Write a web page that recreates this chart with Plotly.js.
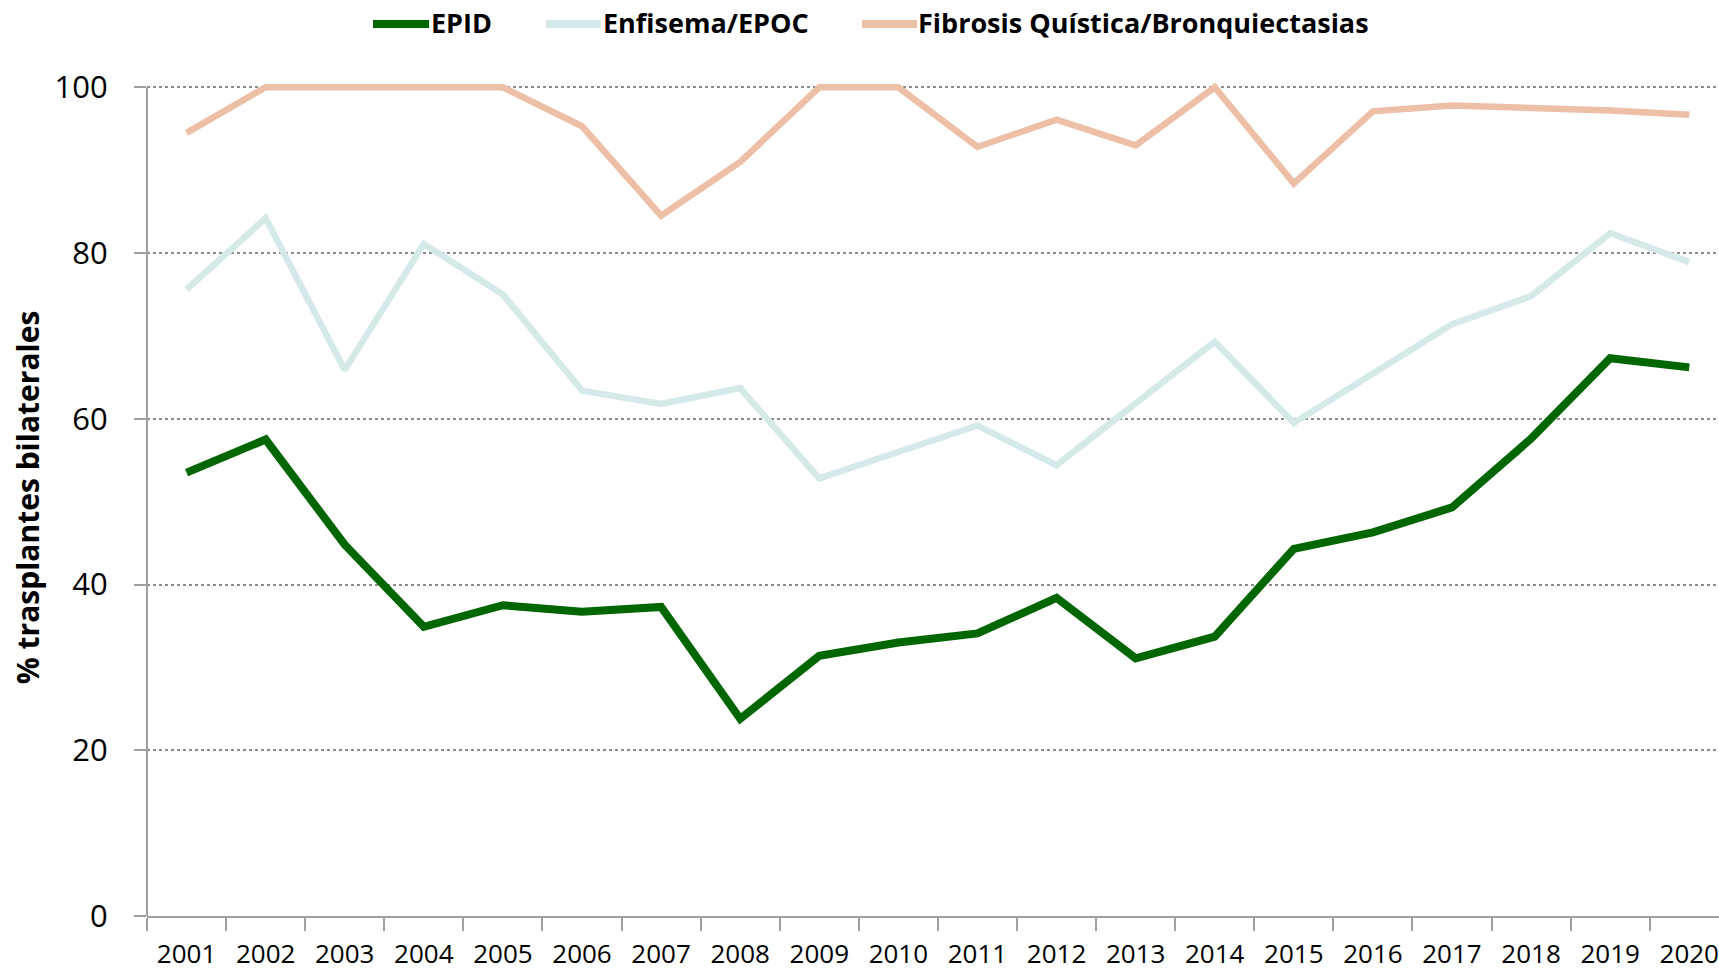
<!DOCTYPE html>
<html>
<head>
<meta charset="utf-8">
<script src="https://cdn.plot.ly/plotly-3.0.1.min.js"></script>
<style>
  html, body { margin: 0; padding: 0; background: #ffffff; }
  #chart { width: 1719px; height: 971px; }
</style>
</head>
<body>
<div id="chart"></div>
<script>
const years = ['2001','2002','2003','2004','2005','2006','2007','2008','2009','2010',
               '2011','2012','2013','2014','2015','2016','2017','2018','2019','2020'];
const epid      = [53.5, 57.5, 44.8, 34.9, 37.5, 36.7, 37.3, 23.8, 31.4, 33.0,
                   34.1, 38.4, 31.1, 33.7, 44.3, 46.3, 49.3, 57.6, 67.3, 66.2];
const enfisema  = [75.6, 84.2, 65.9, 81.1, 75.0, 63.4, 61.8, 63.7, 52.8, 55.9,
                   59.2, 54.4, 61.8, 69.3, 59.5, 65.4, 71.4, 74.8, 82.4, 78.9];
const fibrosis  = [94.5, 100, 100, 100, 100, 95.3, 84.5, 91.0, 100, 100,
                   92.8, 96.1, 93.0, 100, 88.4, 97.1, 97.8, 97.5, 97.2, 96.7];
const seriesNames = ['EPID', 'Enfisema/EPOC', 'Fibrosis Quística/Bronquiectasias'];
const yTicks = [0, 20, 40, 60, 80, 100];

const colors = ['#006600', '#D5E9E9', '#ECBFA6'];
const widths = [8, 6.5, 6.5];
const values = [epid, enfisema, fibrosis];
const FONT = 'Open Sans, Roboto, Liberation Sans, sans-serif';

const traces = values.map((v, i) => ({
  type: 'scatter',
  mode: 'lines',
  x: years,
  y: v,
  name: seriesNames[i],
  line: { color: colors[i], width: widths[i] },
  showlegend: false,
  cliponaxis: false
}));

// Custom legend (line samples + labels) placed above the plot, in paper coordinates
const W = 1719, H = 971;
const mL = 147, mR = 0, mT = 79, mB = 55;
const pw = W - mL - mR, ph = H - mT - mB;
const px = (x) => (x - mL) / pw;
const py = (y) => (H - mB - y) / ph;
const legendItems = [
  { x0: 373, x1: 429, tx: 429 },
  { x0: 546, x1: 601, tx: 601 },
  { x0: 862, x1: 917, tx: 916 }
];
const legY = 24;
const shapes = [];
const annotations = [];
legendItems.forEach((it, i) => {
  shapes.push({
    type: 'line', xref: 'paper', yref: 'paper',
    x0: px(it.x0), x1: px(it.x1), y0: py(legY), y1: py(legY),
    line: { color: colors[i], width: 8 }
  });
  annotations.push({
    xref: 'paper', yref: 'paper', x: px(it.tx), y: py(legY - 1),
    xanchor: 'left', yanchor: 'middle', showarrow: false,
    text: '<b>' + seriesNames[i] + '</b>',
    font: { family: FONT, size: 27, color: '#000000' }
  });
});
// y axis line from 0 to 100
shapes.push({
  type: 'line', xref: 'paper', yref: 'y', x0: 0, x1: 0, y0: 0, y1: 100,
  line: { color: '#A0A0A0', width: 2 }
});

const layout = {
  width: W, height: H,
  margin: { l: mL, r: mR, t: mT, b: mB },
  paper_bgcolor: '#ffffff',
  plot_bgcolor: '#ffffff',
  showlegend: false,
  xaxis: {
    type: 'category',
    range: [-0.5, 19.376],
    tickson: 'boundaries',
    tickangle: 0,
    ticks: 'outside', ticklen: 13, tickwidth: 2, tickcolor: '#A0A0A0',
    ticklabelstandoff: 14,
    showline: true, linecolor: '#A0A0A0', linewidth: 2,
    showgrid: false, zeroline: false,
    tickfont: { family: FONT, size: 26, color: '#000000' },
    automargin: false
  },
  yaxis: {
    range: [0, 101],
    tickvals: yTicks,
    ticktext: yTicks.map(String),
    ticks: 'outside', ticklen: 12, tickwidth: 2, tickcolor: '#A0A0A0',
    ticklabelstandoff: 20,
    showline: false,
    showgrid: true, gridcolor: '#8C8C8C', gridwidth: 1.5, griddash: 'dot',
    zeroline: false,
    tickfont: { family: FONT, size: 31, color: '#000000' },
    title: {
      text: '<b>% trasplantes bilaterales</b>',
      font: { family: FONT, size: 30, color: '#000000' },
      standoff: 6
    },
    automargin: false
  },
  shapes: shapes,
  annotations: annotations
};

Plotly.newPlot('chart', traces, layout, { displayModeBar: false, responsive: false });
</script>
</body>
</html>
